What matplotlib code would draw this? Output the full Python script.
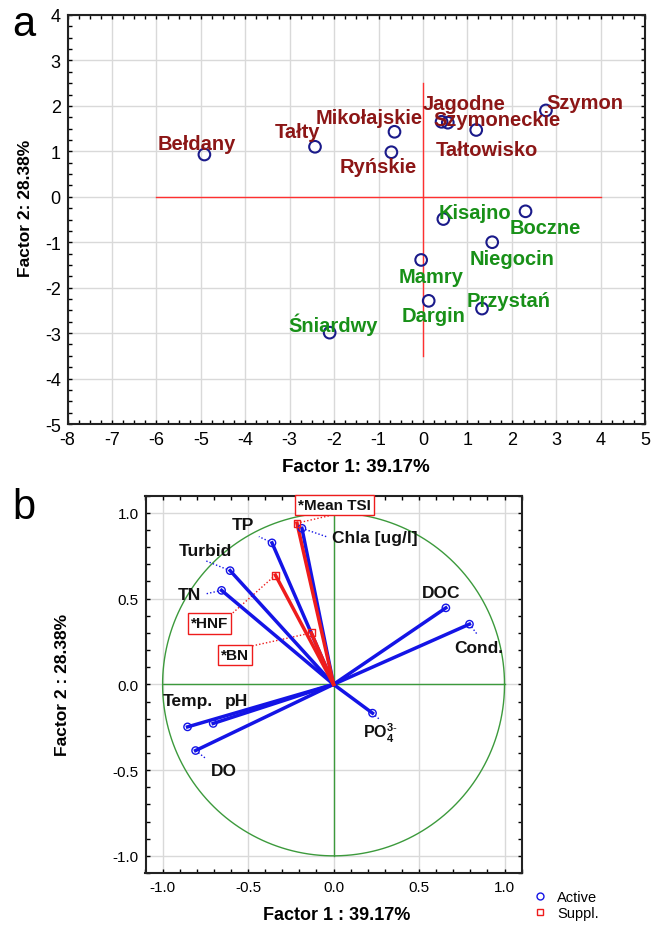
import matplotlib
matplotlib.use("Agg")
import matplotlib.pyplot as plt
import numpy as np
from matplotlib.ticker import MultipleLocator
from matplotlib.lines import Line2D

plt.rcParams['font.family'] = ['Liberation Sans', 'DejaVu Sans']
plt.rcParams['mathtext.fontset'] = 'custom'
plt.rcParams['mathtext.rm'] = 'Liberation Sans'
plt.rcParams['mathtext.bf'] = 'Liberation Sans:bold'
plt.rcParams['axes.unicode_minus'] = False

# --- panel a: lake scores ---
lakes = ['Bełdany', 'Tałty', 'Mikołajskie', 'Ryńskie', 'Jagodne', 'Szymoneckie',
         'Tałtowisko', 'Szymon', 'Kisajno', 'Boczne', 'Niegocin', 'Mamry',
         'Dargin', 'Przystań', 'Śniardwy']
f1_scores = [-4.92, -2.43, -0.64, -0.71, 0.42, 0.56, 1.20, 2.77, 0.46, 2.31,
             1.56, -0.04, 0.13, 1.33, -2.10]
f2_scores = [0.93, 1.10, 1.43, 0.98, 1.65, 1.63, 1.47, 1.90, -0.49, -0.32,
             -1.00, -1.39, -2.29, -2.46, -2.99]
lake_group = ['up'] * 8 + ['down'] * 7

# label positions (left edge, vertical centre) in data units
lake_label_xy = [(-5.97, 1.17), (-3.33, 1.43), (-2.42, 1.74), (-1.88, 0.67),
                 (0.00, 2.05), (0.23, 1.71), (0.30, 1.05), (2.78, 2.07),
                 (0.36, -0.34), (1.95, -0.68), (1.05, -1.35), (-0.54, -1.76),
                 (-0.48, -2.62), (0.99, -2.29), (-3.03, -2.79)]

# --- panel b: variable loadings ---
active_vars = ['Chla [ug/l]', 'TP', 'Turbid', 'TN', 'DOC', 'Cond.',
               'Temp.', 'pH', 'DO', r'PO$_\mathbf{4}^\mathbf{3\text{-}}$']
active_f1 = [-0.185, -0.36, -0.605, -0.655, 0.657, 0.795, -0.854, -0.704, -0.807, 0.228]
active_f2 = [0.91, 0.825, 0.663, 0.548, 0.446, 0.351, -0.248, -0.228, -0.386, -0.168]

suppl_vars = ['*Mean TSI', '*HNF', '*BN']
suppl_f1 = [-0.214, -0.34, -0.13]
suppl_f2 = [0.94, 0.637, 0.30]

active_label_xy = [(-0.01, 0.854), (-0.595, 0.93), (-0.906, 0.78), (-0.91, 0.522),
                   (0.519, 0.536), (0.704, 0.214), (-1.002, -0.094), (-0.635, -0.097),
                   (-0.715, -0.503), (0.172, -0.283)]
active_link_end = [(-0.033, 0.858), (-0.437, 0.862), (-0.749, 0.721), (-0.754, 0.526),
                   None, (0.840, 0.292), None, None, (-0.749, -0.431), (0.265, -0.201)]
suppl_label_xy = [(0.008, 1.044), (-0.725, 0.355), (-0.579, 0.172)]
suppl_link_end = [(-0.004, 0.988), (-0.598, 0.409), (-0.476, 0.224)]

RED_TXT = '#8c1616'
GREEN_TXT = '#189018'
NAVY = '#1a1a8a'
BLUE = '#1414e6'
RED = '#ee1c1c'
GRID = '#d9d9d9'

fig = plt.figure(figsize=(6.51, 9.28), dpi=100)


def style_axes(ax, major, minor, size):
    ax.xaxis.set_major_locator(MultipleLocator(major))
    ax.yaxis.set_major_locator(MultipleLocator(major))
    ax.xaxis.set_minor_locator(MultipleLocator(minor))
    ax.yaxis.set_minor_locator(MultipleLocator(minor))
    ax.tick_params(which='both', direction='in', top=True, right=True,
                   length=3, width=1, labelsize=size, pad=5)
    ax.grid(True, which='major', color=GRID, lw=1)
    ax.set_axisbelow(True)
    for s in ax.spines.values():
        s.set_linewidth(1.5)
        s.set_color('#222222')


# ---------- panel a ----------
ax = fig.add_axes([67.6 / 651, 1 - 425 / 928, 577.4 / 651, 409 / 928])
ax.set_xlim(-8, 5)
ax.set_ylim(-5, 4)
style_axes(ax, 1, 0.25, 13)

ax.plot([-6, 4], [0, 0], color='#ff3030', lw=1)
ax.plot([0, 0], [-3.5, 2.5], color='#ff3030', lw=1)
ax.scatter(f1_scores, f2_scores, s=70, facecolors='none', edgecolors=NAVY,
           linewidths=1.5, zorder=3)
for name, grp, (lx, ly) in zip(lakes, lake_group, lake_label_xy):
    ax.text(lx, ly, name, color=RED_TXT if grp == 'up' else GREEN_TXT,
            fontsize=14.5, fontweight='bold', ha='left', va='center', zorder=4)

ax.set_xlabel('Factor 1: 39.17%', fontsize=13.5, fontweight='bold')
ax.set_ylabel('Factor 2: 28.38%', fontsize=12.5, fontweight='bold')
ax.xaxis.set_label_coords(0.5, -0.084)
ax.yaxis.set_label_coords(-0.060, 0.53)
fig.text(12 / 651, 1 - 25 / 928, 'a', fontsize=30, va='center', ha='left')

# ---------- panel b ----------
bx = fig.add_axes([145.5 / 651, 1 - 874 / 928, 376.1 / 651, 377.3 / 928])
bx.set_xlim(-1.1, 1.1)
bx.set_ylim(-1.1, 1.1)
style_axes(bx, 0.5, 0.1, 11)

theta = np.linspace(0, 2 * np.pi, 400)
bx.plot(np.cos(theta), np.sin(theta), color='#3c9a3c', lw=1)
bx.plot([-1, 1], [0, 0], color='#3c9a3c', lw=1)
bx.plot([0, 0], [-1, 1], color='#3c9a3c', lw=1)

for x, y in zip(active_f1, active_f2):
    bx.plot([0, x], [0, y], color=BLUE, lw=2.5, zorder=3)
bx.scatter(active_f1, active_f2, s=28, facecolors='none', edgecolors=BLUE,
           linewidths=1, zorder=4)
for x, y in zip(suppl_f1, suppl_f2):
    bx.plot([0, x], [0, y], color=RED, lw=2.5, zorder=3)
bx.scatter(suppl_f1, suppl_f2, s=24, marker='s', facecolors='none',
           edgecolors=RED, linewidths=1, zorder=4)

for x, y, end in zip(active_f1, active_f2, active_link_end):
    if end is not None:
        bx.plot([x, end[0]], [y, end[1]], color=BLUE, lw=1, ls=(0, (1, 1.5)), zorder=2)
for x, y, end in zip(suppl_f1, suppl_f2, suppl_link_end):
    bx.plot([x, end[0]], [y, end[1]], color=RED, lw=1, ls=(0, (1, 1.5)), zorder=2)

for name, (lx, ly) in zip(active_vars, active_label_xy):
    fs = 11.5 if name.startswith('PO') else 12.5
    bx.text(lx, ly, name, fontsize=fs, fontweight='bold', ha='left', va='center',
            color='#111111', zorder=5)
for name, (lx, ly) in zip(suppl_vars, suppl_label_xy):
    bx.text(lx, ly, name, fontsize=11, fontweight='bold', ha='center', va='center',
            color='#111111', zorder=5,
            bbox=dict(boxstyle='square,pad=0.2', fc='white', ec=RED, lw=1))

bx.set_xlabel('Factor 1 : 39.17%', fontsize=13, fontweight='bold')
bx.set_ylabel('Factor 2 : 28.38%', fontsize=12.5, fontweight='bold')
bx.xaxis.set_label_coords(0.509, -0.088)
bx.yaxis.set_label_coords(-0.20, 0.5)
fig.text(12 / 651, 1 - 508 / 928, 'b', fontsize=30, va='center', ha='left')

handles = [Line2D([], [], ls='none', marker='o', ms=5, mfc='none', mec=BLUE, label='Active'),
           Line2D([], [], ls='none', marker='s', ms=4, mfc='none', mec=RED, label='Suppl.')]
fig.legend(handles=handles, loc='center left', bbox_to_anchor=(525 / 651, 1 - 906 / 928),
           frameon=False, fontsize=10.5, handletextpad=0.6, labelspacing=0.15,
           handlelength=1.2, borderaxespad=0)

fig.savefig('out.png', dpi=100)
